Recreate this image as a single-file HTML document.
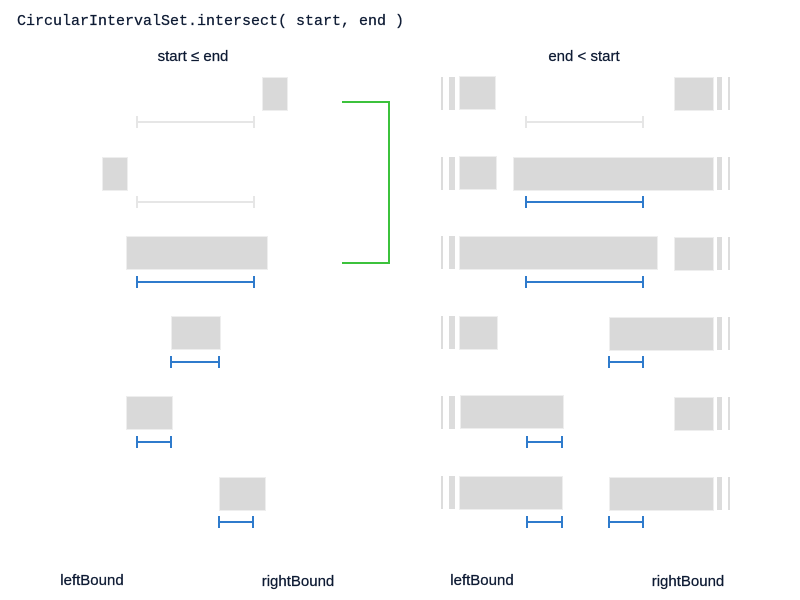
<!DOCTYPE html>
<html><head><meta charset="utf-8"><style>
html,body{margin:0;padding:0;background:#fff;width:800px;height:600px;overflow:hidden}
svg{display:block}
.r{fill:#d9d9d9;stroke:#eeeeee;stroke-width:1}
.g{stroke:#e6e6e6;stroke-width:2;fill:none}
.b{stroke:#2f7bcc;stroke-width:2;fill:none}
text{font-family:"Liberation Sans",sans-serif;fill:#0d1a33;stroke:#0d1a33;stroke-width:0.25}
</style></head><body>
<svg width="800" height="600" viewBox="0 0 800 600">
<text x="17" y="25" style="font-family:'Liberation Mono',monospace;font-size:15px">CircularIntervalSet.intersect( start, end )</text>
<text x="193" y="61" text-anchor="middle" font-size="15">start ≤ end</text>
<text x="584" y="61" text-anchor="middle" font-size="15">end &lt; start</text>
<text x="92" y="585" text-anchor="middle" font-size="15">leftBound</text>
<text x="298" y="586" text-anchor="middle" font-size="15">rightBound</text>
<text x="482" y="585" text-anchor="middle" font-size="15">leftBound</text>
<text x="688" y="586" text-anchor="middle" font-size="15">rightBound</text>

<rect class="r" x="262.5" y="77.5" width="25" height="33"/>
<path class="g" d="M137 122H254M137 116V128M254 116V128"/>
<rect class="r" x="102.5" y="157.5" width="25" height="33"/>
<path class="g" d="M137 202H254M137 196V208M254 196V208"/>
<rect class="r" x="126.5" y="236.5" width="141" height="33"/>
<path class="b" d="M137 282H254M137 276V288M254 276V288"/>
<rect class="r" x="171.5" y="316.5" width="49" height="33"/>
<path class="b" d="M171 362H219M171 356V368M219 356V368"/>
<rect class="r" x="126.5" y="396.5" width="46" height="33"/>
<path class="b" d="M137 442H171M137 436V448M171 436V448"/>
<rect class="r" x="219.5" y="477.5" width="46" height="33"/>
<path class="b" d="M219 522H253M219 516V528M253 516V528"/>

<path d="M342 102H389V263H342" stroke="#3cc23c" stroke-width="2" fill="none"/>

<g fill="#dcdcdc">
<rect x="441" y="77" width="2" height="33"/><rect x="449" y="77" width="6" height="33"/>
<rect x="717" y="77" width="5" height="33"/><rect x="728" y="77" width="2" height="33"/>
<rect x="441" y="157" width="2" height="33"/><rect x="449" y="157" width="6" height="33"/>
<rect x="717" y="157" width="5" height="33"/><rect x="728" y="157" width="2" height="33"/>
<rect x="441" y="236" width="2" height="33"/><rect x="449" y="236" width="6" height="33"/>
<rect x="717" y="237" width="5" height="33"/><rect x="728" y="237" width="2" height="33"/>
<rect x="441" y="316" width="2" height="33"/><rect x="449" y="316" width="6" height="33"/>
<rect x="717" y="317" width="5" height="33"/><rect x="728" y="317" width="2" height="33"/>
<rect x="441" y="396" width="2" height="33"/><rect x="449" y="396" width="6" height="33"/>
<rect x="717" y="397" width="5" height="33"/><rect x="728" y="397" width="2" height="33"/>
<rect x="441" y="476" width="2" height="33"/><rect x="449" y="476" width="6" height="33"/>
<rect x="717" y="477" width="5" height="33"/><rect x="728" y="477" width="2" height="33"/>
</g>
<rect class="r" x="459.5" y="76.5" width="36" height="33"/>
<rect class="r" x="674.5" y="77.5" width="39" height="33"/>
<path class="g" d="M526 122H643M526 116V128M643 116V128"/>

<rect class="r" x="459.5" y="156.5" width="37" height="33"/>
<rect class="r" x="513.5" y="157.5" width="200" height="33"/>
<path class="b" d="M526 202H643M526 196V208M643 196V208"/>

<rect class="r" x="459.5" y="236.5" width="198" height="33"/>
<rect class="r" x="674.5" y="237.5" width="39" height="33"/>
<path class="b" d="M526 282H643M526 276V288M643 276V288"/>

<rect class="r" x="459.5" y="316.5" width="38" height="33"/>
<rect class="r" x="609.5" y="317.5" width="104" height="33"/>
<path class="b" d="M609 362H643M609 356V368M643 356V368"/>

<rect class="r" x="460.5" y="395.5" width="103" height="33"/>
<rect class="r" x="674.5" y="397.5" width="39" height="33"/>
<path class="b" d="M527 442H562M527 436V448M562 436V448"/>

<rect class="r" x="459.5" y="476.5" width="103" height="33"/>
<rect class="r" x="609.5" y="477.5" width="104" height="33"/>
<path class="b" d="M527 522H562M527 516V528M562 516V528"/>
<path class="b" d="M609 522H643M609 516V528M643 516V528"/>
</svg>
</body></html>
